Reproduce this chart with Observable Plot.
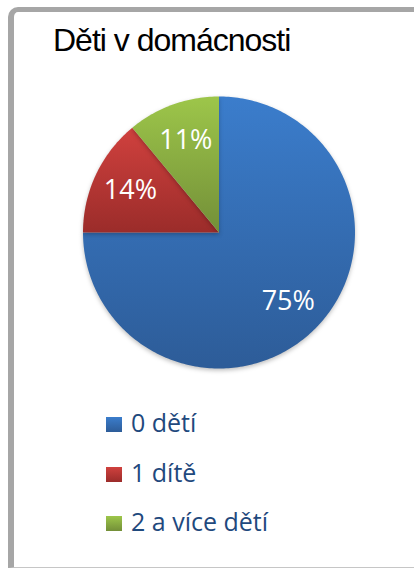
<!DOCTYPE html>
<html>
<head>
<meta charset="utf-8">
<script src="https://cdn.jsdelivr.net/npm/d3@7"></script>
<script src="https://cdn.jsdelivr.net/npm/@observablehq/plot@0.6"></script>
<style>
  html, body { margin: 0; padding: 0; background: #fff; }
  #page { position: relative; width: 414px; height: 569px; overflow: hidden; background: #fff; }
  #frame { position: absolute; left: 8px; top: 7px; width: 430px; height: 561px; box-sizing: border-box;
           border-left: 6px solid #a6a6a6; border-top: 5px solid #a6a6a6; border-bottom: 1px solid #c6c6c6;
           border-top-left-radius: 10px; }
  #title { position: absolute; left: 53px; top: 24px; font-family: "Liberation Sans", Arial, sans-serif;
           font-size: 32px; line-height: 32px; letter-spacing: -1px; color: #000; white-space: nowrap; }
  #chart { position: absolute; left: 0; top: 0; }
  .lg { position: absolute; left: 106px; height: 25px; }
  .lg .sw { position: absolute; left: 0; width: 16px; height: 15px; }
  .lg .tx { position: absolute; left: 25px; top: 0; font-family: "Open Sans", sans-serif; font-size: 25px;
            line-height: 25px; color: #1f497d; white-space: nowrap; }
</style>
</head>
<body>
<div id="page">
  <div id="frame"></div>
  <div id="title">Děti v domácnosti</div>
  <div id="chart"></div>
  <div id="legend"></div>
</div>
<script>
// ---- data ----
const categories = ["0 dětí", "1 dítě", "2 a více dětí"];
const values = [75, 14, 11];
const colorTop = ["#3b7dcc", "#d0413e", "#9dc64a"];
const colorBottom = ["#2d5c98", "#9b2c2a", "#738f38"];

// ---- geometry from data ----
const pie = d3.pie().sort(null).startAngle(0).endAngle(2 * Math.PI)(values);
const slices = pie.map((p, i) => ({
  category: categories[i],
  value: values[i],
  i,
  a0: p.startAngle,
  a1: p.endAngle,
  mid: (p.startAngle + p.endAngle) / 2
}));

function slicePoints(s) {
  const pts = [{x: 0, y: 0, i: s.i}];
  const n = Math.max(2, Math.ceil((s.a1 - s.a0) / (Math.PI / 180)));
  for (let k = 0; k <= n; k++) {
    const a = s.a0 + (s.a1 - s.a0) * k / n;
    pts.push({x: Math.sin(a), y: Math.cos(a), i: s.i});
  }
  pts.push({x: 0, y: 0, i: s.i});
  return pts;
}

const cx = 218.5, cy = 232, R = 136;
const labelR = 0.72;

const marks = slices.map(s => Plot.line(slicePoints(s), {
  x: "x", y: "y", fill: `url(#grad${s.i})`, stroke: "none", curve: "linear"
}));
marks.push(Plot.text(slices, {
  x: d => Math.sin(d.mid) * labelR,
  y: d => Math.cos(d.mid) * labelR,
  text: d => d.value + "%",
  fill: "white",
  fontSize: 27,
  fontFamily: "Open Sans, sans-serif"
}));

const svg = Plot.plot({
  width: 414,
  height: 569,
  margin: 0,
  style: {background: "transparent", overflow: "visible"},
  x: {domain: [-1, 1], range: [cx - R, cx + R], axis: null},
  y: {domain: [-1, 1], range: [cy + R, cy - R], axis: null},
  marks
});

// gradients
const defs = d3.select(svg).insert("defs", ":first-child");
slices.forEach(s => {
  const g = defs.append("linearGradient").attr("id", `grad${s.i}`)
    .attr("x1", 0).attr("y1", 0).attr("x2", 0).attr("y2", 1);
  g.append("stop").attr("offset", "0%").attr("stop-color", colorTop[s.i]);
  g.append("stop").attr("offset", "100%").attr("stop-color", colorBottom[s.i]);
});
d3.select(svg).selectAll('g[aria-label="line"]')
  .style("filter", "drop-shadow(0px 2px 2px rgba(0,0,0,0.25))");

document.getElementById("chart").appendChild(svg);

// legend
const legend = document.getElementById("legend");
const rowTop = [410, 460, 509];
categories.forEach((c, i) => {
  const row = document.createElement("div");
  row.className = "lg";
  row.style.top = rowTop[i] + "px";
  const sw = document.createElement("div");
  sw.className = "sw";
  sw.style.top = "7px";
  sw.style.background = `linear-gradient(${colorTop[i]}, ${colorBottom[i]})`;
  const tx = document.createElement("div");
  tx.className = "tx";
  tx.textContent = c;
  row.appendChild(sw);
  row.appendChild(tx);
  legend.appendChild(row);
});
</script>
</body>
</html>
